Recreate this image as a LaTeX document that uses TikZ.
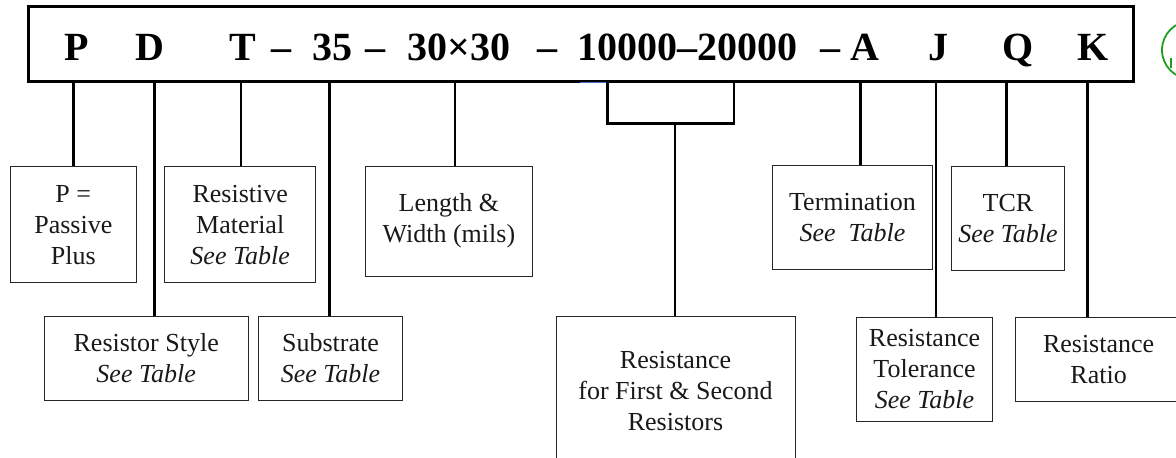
\documentclass[tikz,border=0pt]{standalone}
\usepackage{fontspec}
\setmainfont{Liberation Serif}
\definecolor{markgreen}{RGB}{30,160,30}
\definecolor{selblue}{RGB}{68,114,196}
\begin{document}
\begin{tikzpicture}[x=1pt,y=-1pt,
  lbl/.style={draw=black!85, line width=0.8pt, align=center, inner sep=0pt,
              font=\fontsize{26}{31}\selectfont, text=black!90},
  codechar/.style={anchor=base, inner sep=0pt, font=\fontsize{40}{44}\selectfont\bfseries},
  lead/.style={line width=2.4pt},
]
\useasboundingbox (0,0) rectangle (1176,458);
\clip (0,0) rectangle (1176,458);

% part-number frame
\node[draw, line width=3pt, minimum width=1104.3pt, minimum height=75pt, inner sep=0pt]
  (code) at (580.85,44.2) {};

% part-number fields
\node[codechar] (fP)  at (77,60)    {P};
\node[codechar] (fD)  at (150,60)   {D};
\node[codechar] (fT)  at (243,60)   {T};
\node[codechar] (d1)  at (281.5,60) {--};
\node[codechar] (f35) at (332,60)   {35};
\node[codechar] (d2)  at (375,60)   {--};
\node[codechar] (fLW) at (459,60)   {30×30};
\node[codechar] (d3)  at (547.5,60) {--};
\node[codechar] (fR)  at (687.5,60) {10000--20000};
\node[codechar] (d4)  at (830,60)   {--};
\node[codechar] (fA)  at (864.5,60) {A};
\node[codechar] (fJ)  at (938,60)   {J};
\node[codechar] (fQ)  at (1018.5,60){Q};
\node[codechar] (fK)  at (1093,60)  {K};

% short blue mark under the frame
\draw[selblue, line width=1pt] (580,82) -- (607,82);

% round badge at the right edge
\draw[markgreen, line width=1.8pt] (1191,50) circle[radius=29pt];
\draw[markgreen, line width=1.6pt] (1171,58) -- (1171,68);

% description boxes
\node[lbl, minimum width=126.7pt, minimum height=116pt] (pbox)  at (73.3,224.7)  {P =\\Passive\\Plus};
\node[lbl, minimum width=151.1pt, minimum height=116pt] (rmat)  at (240.2,224.7) {Resistive\\Material\\\textit{See Table}};
\node[lbl, minimum width=167.7pt, minimum height=110pt] (lw)    at (448.9,221)   {Length \&\\Width (mils)};
\node[lbl, minimum width=204.3pt, minimum height=83.3pt] (rstyle) at (146.2,358.3) {Resistor Style\\\textit{See Table}};
\node[lbl, minimum width=144.4pt, minimum height=83.3pt] (subs)  at (330.5,358.3) {Substrate\\\textit{See Table}};
\node[lbl, minimum width=239pt, minimum height=148pt] (rbig)    at (675.5,390.7) {Resistance\\for First \& Second\\Resistors};
\node[lbl, minimum width=159.6pt, minimum height=104pt] (term)  at (852.5,217.3) {Termination\\\textit{See~~Table}};
\node[lbl, minimum width=113.3pt, minimum height=104.7pt] (tcr)  at (1008,218.3)  {TCR\\\textit{See Table}};
\node[lbl, minimum width=135.7pt, minimum height=104.4pt] (rtol) at (924.5,369.5) {Resistance\\Tolerance\\\textit{See Table}};
\node[lbl, minimum width=166.8pt, minimum height=83.3pt] (rratio) at (1098.6,359.3) {Resistance\\Ratio};

% leader start points on the frame's lower edge
\coordinate (tP)  at (73.5,81.7);
\coordinate (tD)  at (154.6,81.7);
\coordinate (tT)  at (241,81.7);
\coordinate (t35) at (329.5,81.7);
\coordinate (tLW) at (454.8,81.7);
\coordinate (tA)  at (860.5,81.7);
\coordinate (tJ)  at (936,81.7);
\coordinate (tQ)  at (1006.5,81.7);
\coordinate (tK)  at (1087.4,81.7);

% bracket under the resistance values
\coordinate (bL)  at (607.7,81.7);
\coordinate (bR)  at (734,81.7);
\coordinate (bBL) at (607.7,123.3);
\coordinate (bBR) at (734,123.3);
\coordinate (bM)  at (675,123.3);

% leaders
\draw[lead] (tP)  -- (tP  |- pbox.north);
\draw[lead] (tD)  -- (tD  |- rstyle.north);
\draw[lead] (tT)  -- (tT  |- rmat.north);
\draw[lead] (t35) -- (t35 |- subs.north);
\draw[lead] (tLW) -- (tLW |- lw.north);
\draw[lead, line width=2.7pt] (bL) -- (bBL) -- (bBR) -- (bR);
\draw[lead] (bM)  -- (bM  |- rbig.north);
\draw[lead] (tA)  -- (tA  |- term.north);
\draw[lead] (tJ)  -- (tJ  |- rtol.north);
\draw[lead] (tQ)  -- (tQ  |- tcr.north);
\draw[lead] (tK)  -- (tK  |- rratio.north);
\end{tikzpicture}
\end{document}
